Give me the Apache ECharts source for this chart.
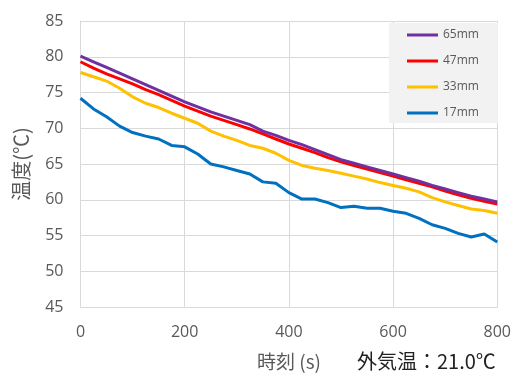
<!DOCTYPE html>
<html>
<head>
<meta charset="utf-8">
<script src="https://cdn.jsdelivr.net/npm/echarts@6/dist/echarts.min.js"></script>
<style>html,body{margin:0;padding:0;background:#fff;}#c{width:514px;height:376px;}</style>
</head>
<body>
<div id="c"></div>
<script>
const times = [0,25,50,75,100,125,150,175,200,225,250,275,300,325,350,375,400,425,450,475,500,525,550,575,600,625,650,675,700,725,750,775,800];
const s65 = [80.1,79.3,78.5,77.7,76.9,76.1,75.3,74.5,73.7,73.0,72.3,71.7,71.1,70.5,69.6,69.0,68.3,67.7,67.0,66.3,65.6,65.1,64.6,64.1,63.6,63.1,62.6,62.0,61.5,61.0,60.5,60.1,59.7];
const s47 = [79.3,78.4,77.6,76.9,76.2,75.4,74.7,73.9,73.1,72.4,71.7,71.1,70.5,69.9,69.2,68.5,67.8,67.2,66.6,65.9,65.3,64.8,64.3,63.8,63.3,62.8,62.3,61.8,61.2,60.7,60.2,59.8,59.4];
const s33 = [77.8,77.2,76.6,75.6,74.4,73.5,72.9,72.1,71.4,70.7,69.6,68.9,68.3,67.6,67.2,66.5,65.5,64.8,64.4,64.1,63.7,63.3,62.9,62.4,62.0,61.6,61.1,60.3,59.7,59.2,58.7,58.5,58.1];
const s17 = [74.2,72.7,71.6,70.3,69.4,68.9,68.5,67.6,67.4,66.4,65.0,64.6,64.1,63.6,62.5,62.3,61.0,60.1,60.1,59.6,58.9,59.1,58.8,58.8,58.4,58.1,57.4,56.5,56.0,55.3,54.8,55.2,54.1];
const seriesNames = ['65mm','47mm','33mm','17mm'];
const seriesColors = ['#7030a0','#ff0000','#ffc000','#0070c0'];
const xTicks = {min:0, max:800, interval:200};
const yTicks = {min:45, max:85, interval:5};

const allData = [s65, s47, s33, s17];
const chart = echarts.init(document.getElementById('c'));
chart.setOption({
  animation: false,
  backgroundColor: '#fff',
  grid: {left: 80.5, right: 15, top: 21, bottom: 69},
  legend: {
    orient: 'vertical', left: 389, top: 23,
    backgroundColor: '#f2f2f2',
    padding: [6, 19, 4, 18],
    itemWidth: 31, itemHeight: 14, itemGap: 14,
    icon: 'path://M0,0H31V3H0Z',
    textStyle: {fontSize: 12, color: '#595959', fontFamily: 'Open Sans'},
    data: seriesNames
  },
  xAxis: {
    type: 'value', min: xTicks.min, max: xTicks.max, interval: xTicks.interval,
    axisLine: {show: true, lineStyle: {color: '#d9d9d9'}},
    axisTick: {show: false},
    splitLine: {show: true, lineStyle: {color: '#d9d9d9'}},
    axisLabel: {fontSize: 16, color: '#595959', margin: 17, fontFamily: 'Open Sans'}
  },
  yAxis: {
    type: 'value', min: yTicks.min, max: yTicks.max, interval: yTicks.interval,
    name: '温度(℃)', nameLocation: 'middle', nameGap: 49,
    nameTextStyle: {fontSize: 20, color: '#595959', fontFamily: 'Noto Sans CJK JP'},
    axisLine: {show: true, lineStyle: {color: '#d9d9d9'}},
    axisTick: {show: false},
    splitLine: {show: true, lineStyle: {color: '#d9d9d9'}},
    axisLabel: {fontSize: 16, color: '#595959', margin: 17, fontFamily: 'Open Sans'}
  },
  graphic: [
    {type: 'text', left: 257, top: 352, style: {text: '時刻 (s)', fontSize: 19, fill: '#595959', fontFamily: 'Noto Sans CJK JP'}},
    {type: 'text', left: 357, top: 351, style: {text: '外気温：21.0℃', fontSize: 20, fill: '#222222', fontFamily: 'Noto Sans CJK JP'}}
  ],
  series: seriesNames.map((n, i) => ({
    name: n, type: 'line', symbol: 'none', smooth: false,
    data: times.map((t, j) => [t, allData[i][j]]),
    lineStyle: {color: seriesColors[i], width: 3},
    itemStyle: {color: seriesColors[i]},
    z: 10 - i
  }))
});
</script>
</body>
</html>
